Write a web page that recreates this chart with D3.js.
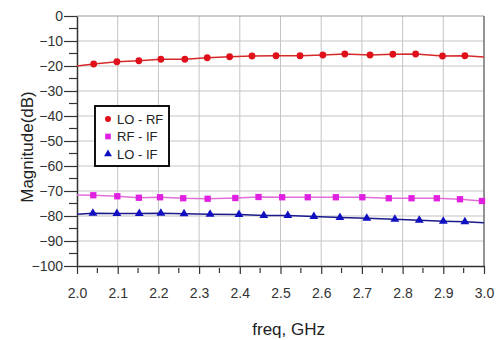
<!DOCTYPE html>
<html><head><meta charset="utf-8">
<script src="https://cdn.jsdelivr.net/npm/d3@7"></script>
<style>
html,body{margin:0;padding:0;background:#fff;}
svg{display:block;font-family:"Liberation Sans",Arial,sans-serif;}
</style></head>
<body>
<svg id="chart" width="501" height="340"></svg>
<script>
// ---- data ----
const xTicks = [2.0,2.1,2.2,2.3,2.4,2.5,2.6,2.7,2.8,2.9,3.0];
const yTicks = [0,-10,-20,-30,-40,-50,-60,-70,-80,-90,-100];
const seriesNames = ["LO - RF","RF - IF","LO - IF"];

const loRfFreq = [2.0,2.041,2.098,2.152,2.206,2.265,2.32,2.375,2.43,2.489,2.548,2.604,2.658,2.72,2.776,2.832,2.898,2.953,3.0];
const loRfDb   = [-20,-19.2,-18.3,-17.9,-17.3,-17.3,-16.7,-16.3,-16.0,-15.9,-15.9,-15.6,-15.2,-15.6,-15.3,-15.2,-16.0,-15.9,-16.4];

const rfIfFreq = [2.0,2.04,2.099,2.152,2.204,2.261,2.321,2.389,2.446,2.504,2.567,2.636,2.701,2.766,2.822,2.884,2.941,2.995];
const rfIfDb   = [-71.6,-71.7,-72.1,-72.7,-72.5,-72.9,-73.1,-72.8,-72.4,-72.5,-72.5,-72.5,-72.5,-72.9,-72.9,-72.9,-73.3,-74.0];

const loIfFreq = [2.0,2.039,2.098,2.153,2.206,2.263,2.327,2.398,2.459,2.518,2.582,2.646,2.712,2.781,2.841,2.9,2.953,3.0];
const loIfDb   = [-79.3,-78.9,-79.0,-79.0,-78.9,-79.1,-79.3,-79.4,-79.8,-79.8,-80.2,-80.6,-80.9,-81.3,-81.7,-82.1,-82.3,-82.7];

// ---- layout ----
const svg = d3.select("#chart");
const L = 77, R = 484, T = 16, B = 266;
const x = d3.scaleLinear().domain([2.0,3.0]).range([L,R]);
const y = d3.scaleLinear().domain([-100,0]).range([B,T]);

// grid
const g = svg.append("g");
g.selectAll(".vg").data(xTicks.slice(1,-1)).enter().append("line")
  .attr("x1",d=>x(d)).attr("x2",d=>x(d)).attr("y1",T).attr("y2",B)
  .attr("stroke","#c4c4c4").attr("stroke-width",1);
g.selectAll(".hg").data(yTicks.slice(1,-1)).enter().append("line")
  .attr("x1",L).attr("x2",R).attr("y1",d=>y(d)).attr("y2",d=>y(d))
  .attr("stroke","#c4c4c4").attr("stroke-width",1);
// top/right frame
svg.append("line").attr("x1",L).attr("x2",R).attr("y1",T).attr("y2",T).attr("stroke","#9a9a9a");
svg.append("line").attr("x1",R).attr("x2",R).attr("y1",T).attr("y2",B).attr("stroke","#707070").attr("stroke-width",1.5);

// axes
const xMinor = d3.range(2.05,3.0,0.1);
const yMinor = d3.range(-95,0,10);
const xAxis = d3.axisBottom(x).tickValues(xTicks).tickFormat(d3.format(".1f")).tickSizeOuter(0).tickSizeInner(8).tickPadding(14);
const yAxis = d3.axisLeft(y).tickValues(yTicks).tickFormat(d=>d3.format("d")(d)).tickSizeOuter(0).tickSizeInner(13).tickPadding(1);
const gx = svg.append("g").attr("transform",`translate(0,${B})`).call(xAxis);
const gy = svg.append("g").attr("transform",`translate(${L},0)`).call(yAxis);
[gx,gy].forEach(a=>{
  a.select(".domain").attr("stroke","#333").attr("stroke-width",1.5);
  a.selectAll(".tick line").attr("stroke","#333").attr("stroke-width",1.2);
  a.selectAll(".tick text").attr("fill","#333").style("font-size","14px");
});
// minor ticks
svg.append("g").selectAll("line").data(xMinor).enter().append("line")
  .attr("x1",d=>x(d)).attr("x2",d=>x(d)).attr("y1",B+2).attr("y2",B+7)
  .attr("stroke","#333").attr("stroke-width",1.2);
svg.append("g").selectAll("line").data(yMinor).enter().append("line")
  .attr("x1",L-8).attr("x2",L).attr("y1",d=>y(d)).attr("y2",d=>y(d))
  .attr("stroke","#333").attr("stroke-width",1.2);

// titles
svg.append("text").attr("x",x(2.52)).attr("y",335).attr("text-anchor","middle")
  .attr("fill","#222").style("font-size","17px").text("freq, GHz");
svg.append("text").attr("transform",`translate(33,147) rotate(-90)`)
  .attr("text-anchor","middle").attr("fill","#222").style("font-size","17px").text("Magnitude(dB)");

// series
const series = [
  {freq:loRfFreq, db:loRfDb, line:"#d42a2a", mark:"#e0101a", sym:d3.symbolCircle, size:36},
  {freq:rfIfFreq, db:rfIfDb, line:"#e070d8", mark:"#e020e0", sym:d3.symbolSquare, size:40},
  {freq:loIfFreq, db:loIfDb, line:"#1a1a8c", mark:"#1010c0", sym:d3.symbolTriangle, size:34}
];
const lineGen = d3.line().x(d=>x(d[0])).y(d=>y(d[1]));
series.forEach(s=>{
  const pts = s.freq.map((f,i)=>[f,s.db[i]]);
  svg.append("path").datum(pts).attr("d",lineGen).attr("fill","none")
    .attr("stroke",s.line).attr("stroke-width",1.3);
  svg.append("g").selectAll("path").data(pts.filter(p=>p[0]>2.0 && p[0]<3.0)).enter().append("path")
    .attr("d",d3.symbol().type(s.sym).size(s.size))
    .attr("transform",d=>`translate(${x(d[0])},${y(d[1])})`)
    .attr("fill",s.mark);
});

// legend
const lg = svg.append("g");
lg.append("rect").attr("x",95).attr("y",106).attr("width",74).attr("height",60)
  .attr("fill","#fff").attr("stroke","#111").attr("stroke-width",2);
seriesNames.forEach((n,i)=>{
  const cy = 119 + i*17.5;
  lg.append("path").attr("d",d3.symbol().type(series[i].sym).size(series[i].size*0.8))
    .attr("transform",`translate(108,${cy})`).attr("fill",series[i].mark);
  lg.append("text").attr("x",117).attr("y",cy).attr("dy","0.35em")
    .attr("fill","#222").style("font-size","13px").text(n);
});
</script>
</body></html>
